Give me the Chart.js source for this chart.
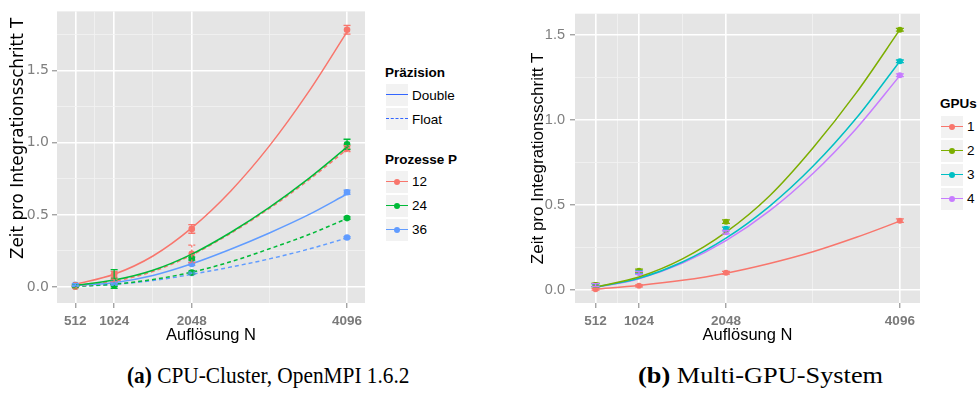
<!DOCTYPE html>
<html>
<head>
<meta charset="utf-8">
<script src="https://cdn.jsdelivr.net/npm/chart.js@4.4.0/dist/chart.umd.min.js"></script>
<style>
  body { margin: 0; background: #fff; width: 978px; height: 405px; position: relative; overflow: hidden;
         font-family: 'Liberation Sans', Arial, sans-serif; }
  canvas { position: absolute; top: 0; }
  #cpu { left: 0; }
  #gpu { left: 518px; }
  .lg { position: absolute; font-size: 13.5px; line-height: 16px; color: #000; white-space: nowrap; }
  .lg.t { font-size: 13.5px; font-weight: bold; }
  .key { position: absolute; width: 22px; height: 22px; background: #f2f2f2; }
  .key i { position: absolute; left: 0; right: 0; top: 10px; border-top: 1.5px solid; }
  .key u { position: absolute; left: 8px; top: 8px; width: 6px; height: 6px; border-radius: 50%; }
  .cap { position: absolute; top: 364px; font-family: 'Liberation Serif', serif; font-size: 23px;
         line-height: 23px; white-space: nowrap; transform-origin: 0 50%; }
</style>
</head>
<body>
<canvas id="cpu" width="370" height="345"></canvas>
<canvas id="gpu" width="407" height="345"></canvas>
<div class="cap" id="capA" data-x="127" data-w="282"><b>(a)</b> CPU-Cluster, OpenMPI 1.6.2</div>
<div class="cap" id="capB" data-x="638" data-w="245"><b>(b)</b> Multi-GPU-System</div>
<script>
// axes
const xMajor = [512, 1024, 2048, 4096];
const xMinor = [768, 1536, 3072];
const yMajor = [0, 0.5, 1.0, 1.5];
const yMinor = [0.25, 0.75, 1.25, 1.75];
const fitN = [512, 1024, 1536, 2048, 2560, 3072, 3584, 4096];

// (a) CPU cluster: measured means, error half-widths and fitted curves
const procs = ['12', '24', '36'];
const procColors = ['#F8766D', '#00BA38', '#619CFF'];
const precisions = ['Double', 'Float'];

const double12 = [0.012, 0.088, 0.403, 1.785];
const double24 = [0.010, 0.055, 0.197, 0.990];
const double36 = [0.015, 0.030, 0.160, 0.657];
const float12 = [0.002, 0.045, 0.230, 0.960];
const float24 = [0.003, 0.012, 0.100, 0.478];
const float36 = [0.008, 0.020, 0.097, 0.343];

const double12Err = [0.008, 0.020, 0.030, 0.030];
const double24Err = [0.006, 0.065, 0.010, 0.035];
const double36Err = [0.008, 0.008, 0.010, 0.015];
const float12Err = [0.005, 0.010, 0.060, 0.020];
const float24Err = [0.004, 0.010, 0.010, 0.008];
const float36Err = [0.004, 0.006, 0.006, 0.006];

const fitDouble12 = [0.018, 0.088, 0.215, 0.410, 0.665, 0.979, 1.350, 1.770];
const fitDouble24 = [0.012, 0.048, 0.116, 0.228, 0.378, 0.552, 0.750, 0.970];
const fitDouble36 = [0.012, 0.030, 0.080, 0.161, 0.262, 0.375, 0.500, 0.645];
const fitFloat12 = [0.004, 0.040, 0.108, 0.222, 0.372, 0.545, 0.740, 0.955];
const fitFloat24 = [0.004, 0.020, 0.052, 0.103, 0.175, 0.265, 0.362, 0.475];
const fitFloat36 = [0.005, 0.018, 0.045, 0.088, 0.138, 0.195, 0.262, 0.340];

// (b) Multi-GPU system
const gpus = ['1', '2', '3', '4'];
const gpuColors = ['#F8766D', '#7CAE00', '#00BFC4', '#C77CFF'];

const gpu1 = [0.005, 0.025, 0.102, 0.408];
const gpu2 = [0.030, 0.113, 0.402, 1.530];
const gpu3 = [0.028, 0.105, 0.360, 1.344];
const gpu4 = [0.030, 0.101, 0.340, 1.262];

const gpu1Err = [0.005, 0.006, 0.008, 0.010];
const gpu2Err = [0.010, 0.010, 0.010, 0.008];
const gpu3Err = [0.008, 0.008, 0.010, 0.008];
const gpu4Err = [0.008, 0.008, 0.010, 0.008];

const fitGpu1 = [0.006, 0.027, 0.057, 0.099, 0.156, 0.225, 0.310, 0.405];
const fitGpu2 = [0.018, 0.077, 0.183, 0.340, 0.553, 0.835, 1.160, 1.530];
const fitGpu3 = [0.016, 0.069, 0.165, 0.305, 0.492, 0.727, 1.011, 1.345];
const fitGpu4 = [0.015, 0.067, 0.158, 0.290, 0.465, 0.685, 0.950, 1.260];

Chart.defaults.font.family = "'Liberation Sans', Arial, sans-serif";
Chart.defaults.devicePixelRatio = 1;

const isIn = (list, v) => list.some(m => Math.abs(m - v) < 1e-9);

// grey ggplot panel
const panelBg = {
  id: 'panelBg',
  beforeDraw(chart) {
    const { ctx, chartArea: a } = chart;
    ctx.save();
    ctx.fillStyle = '#e5e5e5';
    ctx.fillRect(a.left, a.top, a.right - a.left, a.bottom - a.top);
    ctx.restore();
  }
};

// vertical error bars with caps
const errorBars = {
  id: 'errorBars',
  afterDatasetsDraw(chart) {
    const { ctx, scales: { x, y } } = chart;
    chart.data.datasets.forEach(ds => {
      if (!ds.errors) return;
      ctx.save();
      ctx.strokeStyle = ds.borderColor;
      ctx.lineWidth = 1.3;
      ctx.setLineDash(ds.errDash || []);
      ds.data.forEach((p, j) => {
        const px = x.getPixelForValue(p.x);
        const lo = y.getPixelForValue(p.y - ds.errors[j]);
        const hi = y.getPixelForValue(p.y + ds.errors[j]);
        const w = ds.capWidth;
        ctx.beginPath();
        ctx.moveTo(px, lo); ctx.lineTo(px, hi);
        ctx.moveTo(px - w, lo); ctx.lineTo(px + w, lo);
        ctx.moveTo(px - w, hi); ctx.lineTo(px + w, hi);
        ctx.stroke();
      });
      ctx.restore();
    });
  }
};

// rotated y title anchored at its start (used by panel a)
const sideTitle = {
  id: 'sideTitle',
  afterDraw(chart, args, opts) {
    const ctx = chart.ctx;
    ctx.save();
    ctx.translate(opts.x, opts.y);
    ctx.rotate(-Math.PI / 2);
    ctx.font = opts.font;
    ctx.fillStyle = '#000';
    ctx.textAlign = 'left';
    ctx.textBaseline = 'middle';
    ctx.fillText(opts.text, 0, 0);
    ctx.restore();
  }
};

function xAxis() {
  return {
    type: 'linear', min: 270, max: 4333,
    afterBuildTicks: s => { s.ticks = xMajor.concat(xMinor).sort((a, b) => a - b).map(v => ({ value: v })); },
    afterFit: s => { s.height = 42; },
    ticks: {
      autoSkip: false, maxRotation: 0, padding: 5, color: '#7a7a7a',
      font: { size: 13.5, weight: 'bold' },
      callback: v => isIn(xMajor, v) ? String(v) : ''
    },
    grid: {
      color: c => c.tick && isIn(xMajor, c.tick.value) ? '#ffffff' : '#f2f2f2',
      lineWidth: c => c.tick && isIn(xMajor, c.tick.value) ? 1.6 : 0.8,
      tickLength: 5, tickWidth: 1,
      tickColor: c => c.tick && isIn(xMajor, c.tick.value) ? '#7f7f7f' : 'rgba(0,0,0,0)'
    },
    border: { display: false },
    title: { display: true, text: 'Auflösung N', color: '#000', font: { size: 16.5 }, padding: { top: 0, bottom: 0 } }
  };
}

function yAxis(min, max, labelFont, labelPad, title) {
  return {
    type: 'linear', min: min, max: max,
    afterBuildTicks: s => {
      s.ticks = yMajor.concat(yMinor).filter(v => v >= min && v <= max)
        .sort((a, b) => a - b).map(v => ({ value: v }));
    },
    afterFit: s => { s.width = 57; },
    ticks: {
      autoSkip: false, padding: labelPad, color: '#7f7f7f', font: labelFont,
      callback: v => isIn(yMajor, v) ? v.toFixed(1) : ''
    },
    grid: {
      color: c => c.tick && isIn(yMajor, c.tick.value) ? '#ffffff' : '#f2f2f2',
      lineWidth: c => c.tick && isIn(yMajor, c.tick.value) ? 1.6 : 0.8,
      tickLength: 5, tickWidth: 1,
      tickColor: c => c.tick && isIn(yMajor, c.tick.value) ? '#7f7f7f' : 'rgba(0,0,0,0)'
    },
    border: { display: false },
    title: title
  };
}

function curve(xs, ys, color, dash) {
  return {
    data: xs.map((x, i) => ({ x: x, y: ys[i] })),
    showLine: true, pointRadius: 0, borderColor: color, borderWidth: 1.5,
    borderDash: dash, cubicInterpolationMode: 'monotone', fill: false
  };
}

function points(ys, errs, color, dash, cap, r) {
  return {
    data: xMajor.map((x, i) => ({ x: x, y: ys[i] })),
    showLine: false, pointRadius: r, pointBorderWidth: 0,
    pointBackgroundColor: color, borderColor: color,
    errors: errs, errDash: dash, capWidth: cap
  };
}

const baseOptions = {
  responsive: false, animation: false, events: [],
  plugins: { legend: { display: false }, tooltip: { enabled: false } }
};

// ---- panel (a)
const cpuMeans = [[double12, double24, double36], [float12, float24, float36]];
const cpuErrs = [[double12Err, double24Err, double36Err], [float12Err, float24Err, float36Err]];
const cpuFits = [[fitDouble12, fitDouble24, fitDouble36], [fitFloat12, fitFloat24, fitFloat36]];
const cpuSets = [];
precisions.forEach((prec, k) => {
  const dash = prec === 'Float' ? [4, 3] : [];
  procs.forEach((p, j) => {
    cpuSets.push(curve(fitN, cpuFits[k][j], procColors[j], dash));
    cpuSets.push(points(cpuMeans[k][j], cpuErrs[k][j], procColors[j], prec === 'Float' ? [3, 2] : [], 3.5, 3.3));
  });
});

new Chart(document.getElementById('cpu'), {
  type: 'scatter',
  data: { datasets: cpuSets },
  options: Object.assign({}, baseOptions, {
    layout: { padding: { left: 0, top: 6, right: 5, bottom: 0 } },
    scales: {
      x: xAxis(),
      y: yAxis(-0.111, 1.912, { family: "'DejaVu Sans', sans-serif", size: 14 }, 3, { display: false })
    },
    plugins: Object.assign({}, baseOptions.plugins, {
      sideTitle: { text: 'Zeit pro Integrationsschritt T', x: 18.5, y: 259, font: "16.8px 'DejaVu Sans', sans-serif" }
    })
  }),
  plugins: [panelBg, errorBars, sideTitle]
});

// ---- panel (b)
const gpuMeans = [gpu1, gpu2, gpu3, gpu4];
const gpuErrs = [gpu1Err, gpu2Err, gpu3Err, gpu4Err];
const gpuFits = [fitGpu1, fitGpu2, fitGpu3, fitGpu4];
const gpuSets = [];
gpus.forEach((g, j) => {
  gpuSets.push(curve(fitN, gpuFits[j], gpuColors[j], []));
  gpuSets.push(points(gpuMeans[j], gpuErrs[j], gpuColors[j], [], 4, 3));
});

new Chart(document.getElementById('gpu'), {
  type: 'scatter',
  data: { datasets: gpuSets },
  options: Object.assign({}, baseOptions, {
    layout: { padding: { left: 0, top: 6, right: 5, bottom: 0 } },
    scales: {
      x: xAxis(),
      y: yAxis(-0.076, 1.624, { size: 14.5 }, 5, {
        display: true, text: 'Zeit pro Integrationsschritt T', color: '#000',
        font: { size: 17 }, padding: { top: 9.8, bottom: 0 }
      })
    }
  }),
  plugins: [panelBg, errorBars]
});

// ---- legends (html)
function addText(text, x, y, title) {
  const d = document.createElement('div');
  d.className = title ? 'lg t' : 'lg';
  d.textContent = text;
  d.style.left = x + 'px';
  d.style.top = y + 'px';
  document.body.appendChild(d);
}
function addKey(x, y, color, dashed, dot) {
  const k = document.createElement('div');
  k.className = 'key';
  k.style.left = x + 'px';
  k.style.top = y + 'px';
  const line = document.createElement('i');
  line.style.borderTopColor = color;
  if (dashed) line.style.borderTopStyle = 'dashed';
  k.appendChild(line);
  if (dot) {
    const u = document.createElement('u');
    u.style.background = color;
    k.appendChild(u);
  }
  document.body.appendChild(k);
}

addText('Präzision', 385, 64.5, true);
precisions.forEach((prec, i) => {
  addKey(386, 84 + 24 * i, '#3366FF', prec === 'Float', false);
  addText(prec, 412, 88 + 24 * i);
});
addText('Prozesse P', 385, 151.5, true);
procs.forEach((p, i) => {
  addKey(386, 171 + 24 * i, procColors[i], false, true);
  addText(p, 412, 174 + 24 * i);
});

addText('GPUs', 940, 96, true);
gpus.forEach((g, i) => {
  addKey(941, 116 + 24 * i, gpuColors[i], false, true);
  addText(g, 967, 119 + 24 * i);
});

// captions: fit each to its measured width
document.querySelectorAll('.cap').forEach(c => {
  c.style.left = c.dataset.x + 'px';
  const s = Number(c.dataset.w) / c.offsetWidth;
  c.style.transform = 'scaleX(' + s.toFixed(3) + ')';
});
</script>
</body>
</html>
